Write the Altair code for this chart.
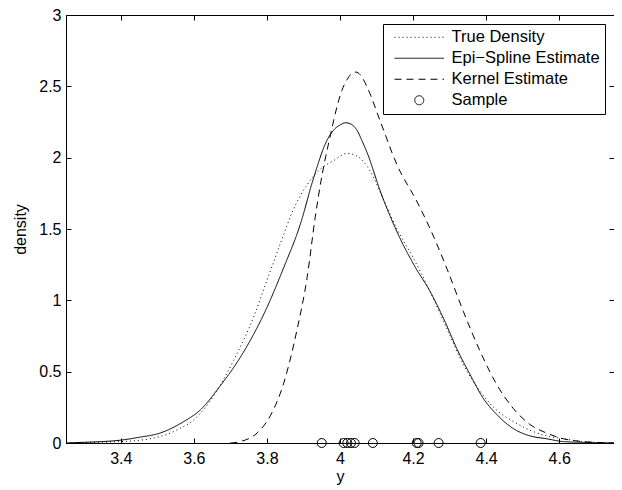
import altair as alt
import pandas as pd

FONT = "Liberation Sans"

series_names = ["True Density", "Epi\u2212Spline Estimate", "Kernel Estimate", "Sample"]

x_ticks = [3.4, 3.6, 3.8, 4.0, 4.2, 4.4, 4.6]
y_ticks = [0, 0.5, 1, 1.5, 2, 2.5, 3]

true_x = [3.25, 3.3, 3.35, 3.4, 3.435, 3.48, 3.526, 3.56, 3.599, 3.654, 3.709, 3.763, 3.8,
          3.837, 3.873, 3.91, 3.946, 3.983, 4.0, 4.019, 4.047, 4.065, 4.084, 4.12, 4.156,
          4.202, 4.247, 4.293, 4.338, 4.384, 4.429, 4.475, 4.52, 4.565, 4.611, 4.665, 4.75]
true_y = [0.0, 0.002, 0.005, 0.01, 0.015, 0.03, 0.06, 0.1, 0.16, 0.33, 0.58, 0.88, 1.14,
          1.40, 1.64, 1.81, 1.92, 1.98, 2.01, 2.03, 2.01, 1.97, 1.90, 1.70, 1.50,
          1.29, 1.06, 0.80, 0.55, 0.36, 0.23, 0.15, 0.09, 0.05, 0.03, 0.01, 0.0]

epi_x = [3.25, 3.3, 3.35, 3.4, 3.45, 3.508, 3.572, 3.617, 3.672, 3.727, 3.8, 3.846, 3.891,
         3.928, 3.964, 3.985, 4.001, 4.015, 4.03, 4.047, 4.06, 4.075, 4.111, 4.156, 4.202,
         4.247, 4.284, 4.32, 4.356, 4.393, 4.429, 4.475, 4.52, 4.565, 4.611, 4.66, 4.75]
epi_y = [0.0, 0.005, 0.01, 0.02, 0.04, 0.07, 0.15, 0.23, 0.40, 0.60, 0.95, 1.23, 1.53,
         1.86, 2.12, 2.20, 2.23, 2.245, 2.235, 2.19, 2.12, 2.03, 1.76, 1.48, 1.25,
         1.06, 0.87, 0.66, 0.48, 0.31, 0.20, 0.10, 0.05, 0.03, 0.01, 0.005, 0.0]

kern_x = [3.70, 3.727, 3.773, 3.809, 3.846, 3.882, 3.91, 3.932, 3.951, 3.974, 3.992, 4.005,
          4.02, 4.032, 4.043, 4.056, 4.075, 4.111, 4.156, 4.211, 4.247, 4.293, 4.338, 4.384,
          4.429, 4.475, 4.52, 4.565, 4.611, 4.665, 4.75]
kern_y = [0.0, 0.01, 0.07, 0.19, 0.42, 0.79, 1.16, 1.58, 1.88, 2.16, 2.36, 2.47,
          2.55, 2.59, 2.60, 2.58, 2.49, 2.25, 1.95, 1.69, 1.50, 1.22, 0.92, 0.64,
          0.41, 0.24, 0.13, 0.07, 0.03, 0.01, 0.0]

sample_x = [3.95, 4.01, 4.02, 4.03, 4.04, 4.09, 4.21, 4.215, 4.27, 4.385]

true_df = pd.DataFrame({"y": true_x, "density": true_y, "series": series_names[0]})
est_df = pd.concat([
    pd.DataFrame({"y": epi_x, "density": epi_y, "series": series_names[1]}),
    pd.DataFrame({"y": kern_x, "density": kern_y, "series": series_names[2]}),
])
sample_df = pd.DataFrame({"y": sample_x, "density": [0.0] * len(sample_x), "series": series_names[3]})

W, H = 548, 428

x_scale = alt.Scale(domain=[3.25, 4.75], nice=False, zero=False)
y_scale = alt.Scale(domain=[0, 3], nice=False)
dash_scale = alt.Scale(domain=series_names, range=[[1, 3], [1, 0], [7, 5], [1, 0]])
line_path = "M-5.5,0H5.5"
shape_scale = alt.Scale(domain=series_names, range=[line_path, line_path, line_path, "circle"])

legend = alt.Legend(
    title=None, orient="top-right", offset=9, padding=5, rowPadding=4,
    symbolOffset=23, labelOffset=24, labelFontSize=16.5, labelFont=FONT, labelColor="black",
    strokeColor="black", fillColor="white", symbolSize=81, symbolStrokeWidth=1,
    symbolStrokeColor="black", symbolFillColor="transparent", labelLimit=300,
)

lab = dict(labelFontSize=16, labelFont=FONT, labelColor="black")

axis_x_main = alt.Axis(values=x_ticks, format="~g", title="y", ticks=False, domain=False,
                       labelPadding=7, titlePadding=2, titleFontSize=16, titleFont=FONT,
                       titleFontWeight="normal", titleColor="black", **lab)
axis_y_main = alt.Axis(values=y_ticks, format="~g", title="density", ticks=False, domain=False,
                       labelPadding=5, titlePadding=10, titleFontSize=16, titleFont=FONT,
                       titleFontWeight="normal", titleColor="black", **lab)

tick_kw = dict(labels=False, title=None, domain=False, ticks=True, tickSize=5,
               tickColor="black", tickWidth=1)
axis_x_bottom_in = alt.Axis(values=x_ticks, orient="top", offset=-H, **tick_kw)
axis_y_left_in = alt.Axis(values=y_ticks, orient="right", offset=-W, **tick_kw)
axis_x_top_in = alt.Axis(values=x_ticks, orient="bottom", offset=-H, **tick_kw)
axis_y_right_in = alt.Axis(values=y_ticks, orient="left", offset=-W, **tick_kw)

true_line = alt.Chart(true_df).mark_line(color="black", strokeWidth=1, interpolate="monotone").encode(
    x=alt.X("y:Q", scale=x_scale, axis=axis_x_main),
    y=alt.Y("density:Q", scale=y_scale, axis=axis_y_main),
    strokeDash=alt.StrokeDash("series:N", scale=dash_scale, legend=legend),
)

est_lines = alt.Chart(est_df).mark_line(color="black", strokeWidth=1, interpolate="monotone").encode(
    x=alt.X("y:Q", scale=x_scale, axis=axis_x_bottom_in),
    y=alt.Y("density:Q", scale=y_scale, axis=axis_y_left_in),
    strokeDash=alt.StrokeDash("series:N", scale=dash_scale, legend=legend),
    detail="series:N",
)

points = alt.Chart(sample_df).mark_point(filled=False, color="black", strokeWidth=1, size=81, opacity=1).encode(
    x=alt.X("y:Q", scale=x_scale, axis=axis_x_top_in),
    y=alt.Y("density:Q", scale=y_scale, axis=axis_y_right_in),
    shape=alt.Shape("series:N", scale=shape_scale, legend=legend),
)

chart = alt.layer(true_line, est_lines, points).resolve_axis(
    x="independent", y="independent"
).properties(
    width=W, height=H,
    autosize=alt.AutoSizeParams(type="none"),
    padding={"left": 58, "top": 7, "right": 0, "bottom": 46},
    background="white",
).configure_view(stroke="black", strokeWidth=1).configure_axis(grid=False)

chart.save("out.html", embed_options={"renderer": "svg", "actions": False})
